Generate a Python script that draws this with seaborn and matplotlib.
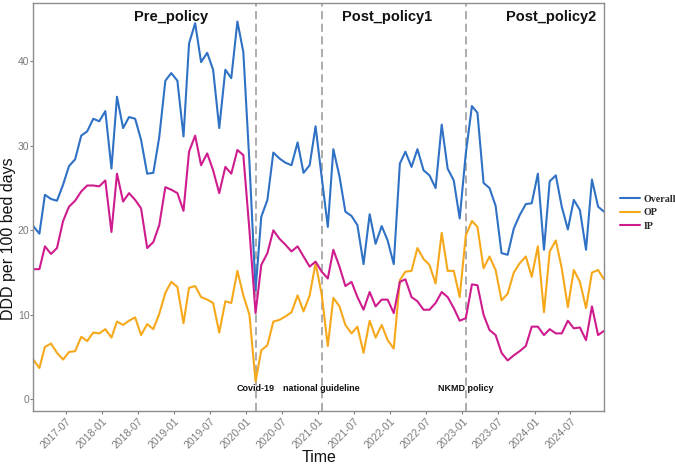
import numpy as np
import pandas as pd
import matplotlib
matplotlib.use("Agg")
import matplotlib.pyplot as plt
import matplotlib.dates as mdates
from matplotlib.font_manager import FontProperties
import seaborn as sns

# ---------------- data ----------------
month_start = "2017-01"
n_months = 96
overall = [20.5, 19.6, 24.2, 23.7, 23.5, 25.4, 27.6, 28.4, 31.2, 31.7, 33.2, 32.9, 34.1, 27.3, 35.8,
           32.1, 33.4, 33.2, 30.7, 26.7, 26.8, 31.0, 37.7, 38.6, 37.7, 31.1, 42.1, 44.5, 39.9, 41.0,
           39.0, 32.1, 39.0, 38.0, 44.7, 41.1,
           28.0, 12.9, 21.6, 23.6, 29.2, 28.5, 28.0, 27.7, 30.4, 26.8, 27.7, 32.3, 26.3, 20.4, 29.6,
           26.4, 22.2,
           21.7, 20.6, 16.0, 21.9, 18.4, 20.5, 18.8, 16.0, 27.9, 29.3, 27.5, 29.6, 27.1, 26.5, 25.0,
           32.5, 27.3, 25.9, 21.4, 29.1, 34.7, 33.9,
           25.6, 25.0, 22.9, 17.3, 17.1, 20.2, 21.8, 23.1, 23.2, 26.7, 17.7, 25.8, 26.5, 22.8, 20.1,
           23.6, 22.4, 17.7, 26.0, 22.8, 22.2]
op = [4.7, 3.7, 6.2, 6.6, 5.5, 4.7, 5.6, 5.7, 7.4, 6.9, 7.9, 7.8, 8.3, 7.3, 9.2,
      8.8, 9.3, 9.7, 7.6, 8.9, 8.3, 10.1, 12.6, 13.9, 13.3, 9.0, 13.2, 13.4, 12.1, 11.8,
      11.4, 7.9, 11.6, 11.4, 15.2, 12.3,
      10.0, 2.1, 5.8, 6.4, 9.2, 9.4, 9.8, 10.3, 12.3, 10.4, 12.3, 16.1, 12.4, 6.3, 12.0,
      11.0, 8.8,
      7.8, 8.6, 5.5, 9.3, 7.3, 8.8, 7.0, 6.0, 14.1, 15.1, 15.2, 17.9, 16.6, 15.9, 13.7,
      19.7, 15.2, 15.2, 12.1, 19.4, 21.1, 20.4,
      15.5, 16.9, 15.3, 11.7, 12.5, 15.0, 16.1, 16.9, 14.5, 18.1, 10.3, 17.5, 18.8, 15.5, 10.9,
      15.3, 13.9, 10.8, 15.0, 15.3, 14.2]
ip = [15.4, 15.4, 18.1, 17.2, 17.9, 21.1, 22.8, 23.5, 24.6, 25.3, 25.3, 25.2, 25.9, 19.8, 26.7,
      23.4, 24.4, 23.6, 22.6, 17.9, 18.6, 20.6, 25.1, 24.8, 24.4, 22.3, 29.3, 31.2, 27.7, 29.1,
      27.1, 24.4, 27.5, 26.7, 29.5, 28.9,
      20.0, 10.2, 15.9, 17.3, 20.0, 19.0, 18.3, 17.5, 18.1, 16.9, 15.7, 16.3, 15.1, 14.3, 17.7,
      15.7, 13.4,
      13.9, 12.1, 10.6, 12.7, 11.0, 11.8, 11.8, 10.2, 13.9, 14.2, 12.1, 11.6, 10.6, 10.6, 11.4,
      12.7, 12.1, 10.8, 9.3, 9.6, 13.6, 13.5,
      10.0, 8.2, 7.6, 5.5, 4.6, 5.2, 5.7, 6.3, 8.6, 8.6, 7.6, 8.3, 7.8, 7.8, 9.3,
      8.4, 8.5, 7.0, 11.0, 7.6, 8.1]
series_names = ["Overall", "OP", "IP"]
series_colors = ["#2F71C4", "#F6A81B", "#CE1C8E"]
event_months = ["2020-02", "2021-01", "2023-01"]
event_labels = ["Covid-19", "national guideline", "NKMD policy"]
period_labels = ["Pre_policy", "Post_policy1", "Post_policy2"]
period_label_dates = ["2018-12-15", "2021-12-15", "2024-03-24"]
y_ticks = [0, 10, 20, 30, 40]

# ---------------- build frame ----------------
offset = pd.Timedelta(days=17)
dates = pd.date_range(month_start, periods=n_months, freq="MS") + offset
df = pd.DataFrame({"Time": np.tile(dates, 3),
                   "value": overall + op + ip,
                   "Series": np.repeat(series_names, n_months)})

sns.set_theme(style="white")
plt.rcParams["font.family"] = ["Liberation Sans", "DejaVu Sans"]

fig = plt.figure(figsize=(6.75, 4.67), dpi=100)
ax = fig.add_axes([0.0493, 0.1205, 0.8455, 0.8737])

sns.lineplot(data=df, x="Time", y="value", hue="Series", hue_order=series_names,
             palette=dict(zip(series_names, series_colors)), linewidth=1.5, ax=ax)

ax.set_xlim(dates[0], dates[-1])
ax.set_ylim(-1.35, 46.93)

# event lines and annotations
for m, lab in zip(event_months, event_labels):
    d = pd.Timestamp(m) + offset
    ax.axvline(d, color="#A6A6A6", linewidth=1.3, linestyle=(0, (4.5, 2.5)), zorder=1)
    ax.text(d, 1.25, lab, ha="center", va="center", fontsize=6.5, fontweight="bold", color="#111111")

for d, lab in zip(period_label_dates, period_labels):
    ax.text(pd.Timestamp(d), 45.2, lab, ha="center", va="center", fontsize=10.5,
            fontweight="bold", color="#111111")

# axes styling
ax.xaxis.set_major_locator(mdates.MonthLocator(bymonth=[1, 7]))
ax.xaxis.set_major_formatter(mdates.DateFormatter("%Y-%m"))
ax.set_yticks(y_ticks)
ax.tick_params(axis="both", which="major", direction="out", length=2.5, width=0.8,
               color="#7f7f7f", labelcolor="#7a7a7a", bottom=True, left=True)
ax.tick_params(axis="x", labelsize=7.5, pad=1.5)
ax.tick_params(axis="y", labelsize=7.5, pad=0.3)
for lbl in ax.get_xticklabels():
    lbl.set_rotation(45)
    lbl.set_ha("right")
    lbl.set_rotation_mode("anchor")
for sp in ax.spines.values():
    sp.set_color("#8c8c8c")
    sp.set_linewidth(1.0)
ax.set_xlabel("")
ax.set_ylabel("")
fig.text(0.472, 0.0193, "Time", ha="center", va="center", fontsize=11.5, color="#111111")
fig.text(0.0127, 0.488, "DDD per 100 bed days", rotation=90, ha="center", va="center",
         fontsize=11.5, color="#111111")

handles, labels = ax.get_legend_handles_labels()
if ax.get_legend() is not None:
    ax.get_legend().remove()
fig.legend(handles, labels, loc="center left", bbox_to_anchor=(0.9185, 0.544),
           frameon=False, prop=FontProperties(family="Liberation Serif", weight="bold", size=7.2),
           handlelength=2.0, handletextpad=0.35, labelspacing=0.45, borderpad=0, borderaxespad=0)

fig.savefig("out.png", dpi=100)
